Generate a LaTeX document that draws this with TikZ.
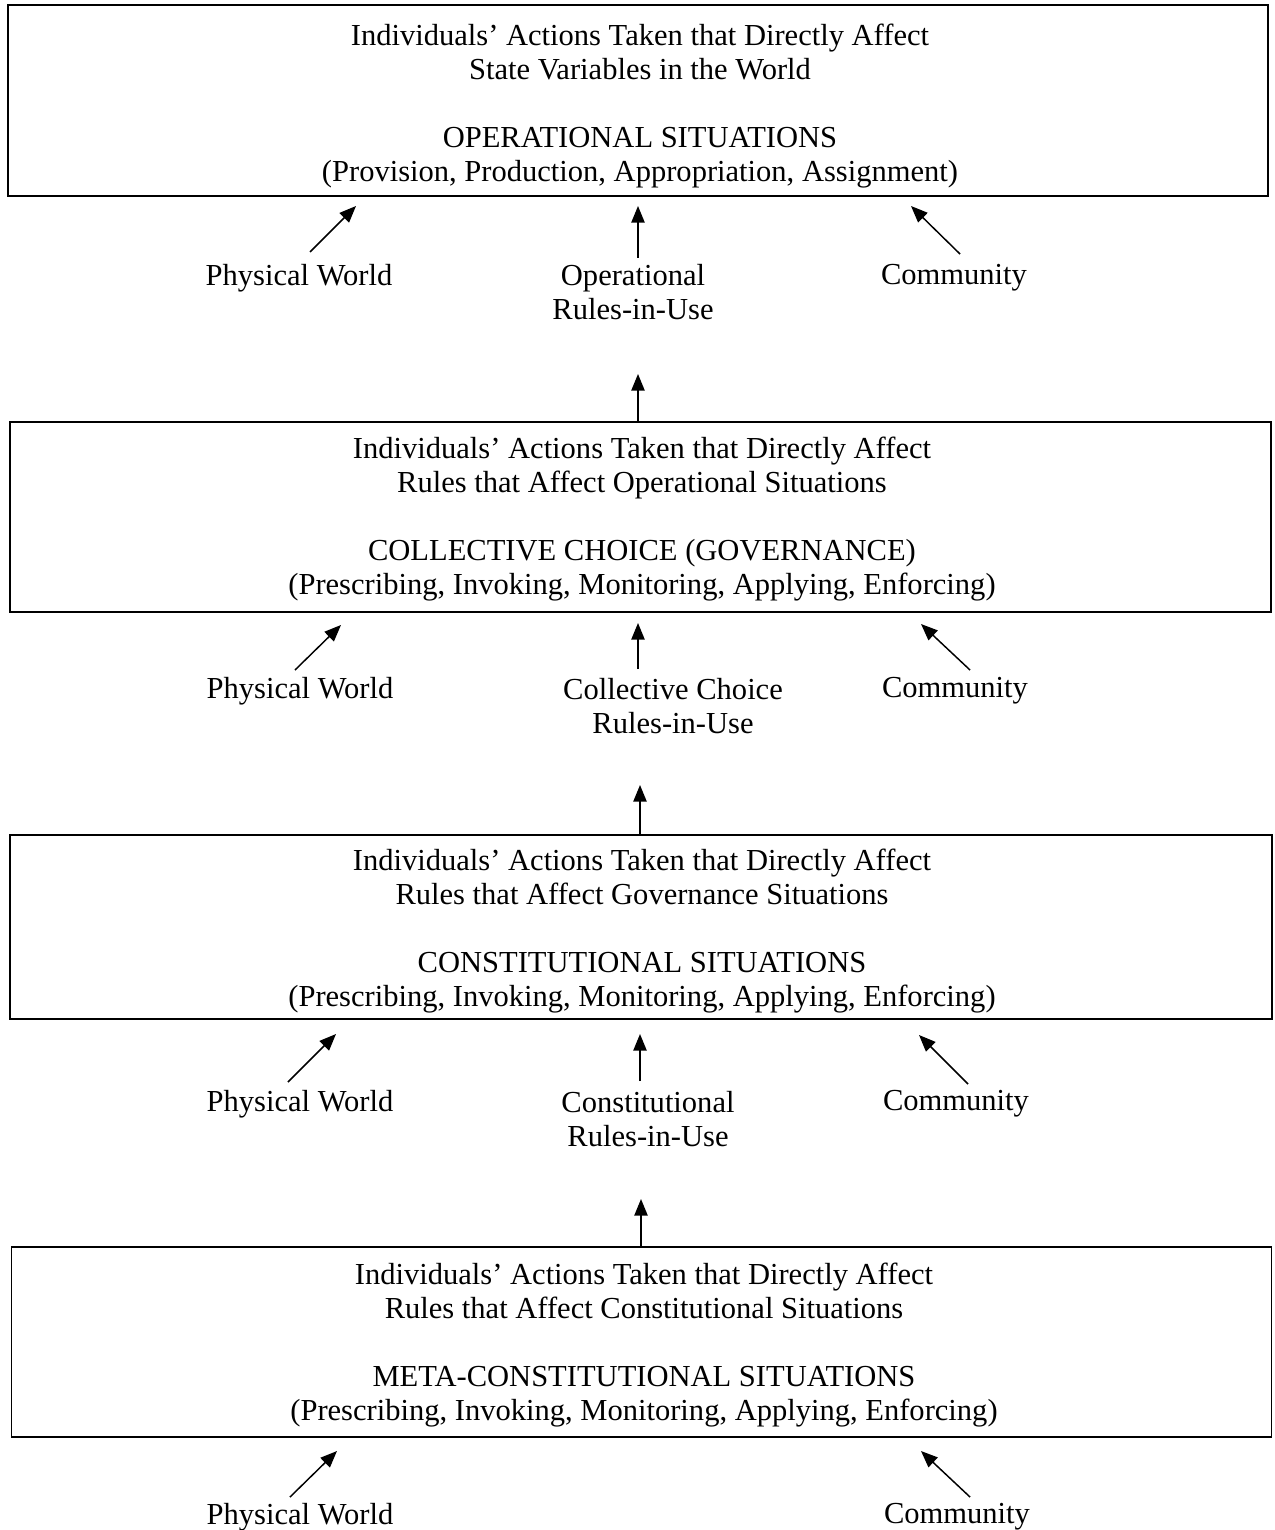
\documentclass[tikz,border=0pt]{standalone}
\usepackage{fontspec}
\setmainfont{Liberation Serif}
\usetikzlibrary{arrows.meta}
\begin{document}
\begin{tikzpicture}[x=0.75pt,y=-0.75pt,
  lvlbox/.style={draw,line width=1.3pt,rectangle,inner sep=0pt},
  lvltext/.style={align=center,inner sep=0pt,font=\fontsize{22.9}{25.5}\selectfont},
  lbl/.style={align=center,inner sep=0pt,font=\fontsize{22.9}{25.5}\selectfont},
  arr/.style={line width=1.1pt,-{Triangle[length=12.5pt,width=10pt]}}]
\useasboundingbox (0,0) rectangle (1274,1530);
% boxes
\node[lvlbox,minimum width=945pt,minimum height=143pt] (box1) at (638,100.5) {};
\node[lvlbox,minimum width=946pt,minimum height=142.5pt] (box2) at (640.5,517) {};
\node[lvlbox,minimum width=946pt,minimum height=138pt] (box3) at (641,927) {};
\node[lvlbox,minimum width=945pt,minimum height=142.5pt] (box4) at (641.5,1342) {};
% box texts
\node[lvltext] (tx1) at (640,106) {Individuals’ Actions Taken that Directly Affect\\State Variables in the World\\[25.5pt]OPERATIONAL SITUATIONS\\(Provision, Production, Appropriation, Assignment)};
\node[lvltext] (tx2) at (642,519) {Individuals’ Actions Taken that Directly Affect\\Rules that Affect Operational Situations\\[25.5pt]COLLECTIVE CHOICE (GOVERNANCE)\\(Prescribing, Invoking, Monitoring, Applying, Enforcing)};
\node[lvltext] (tx3) at (642,931) {Individuals’ Actions Taken that Directly Affect\\Rules that Affect Governance Situations\\[25.5pt]CONSTITUTIONAL SITUATIONS\\(Prescribing, Invoking, Monitoring, Applying, Enforcing)};
\node[lvltext] (tx4) at (644,1345.5) {Individuals’ Actions Taken that Directly Affect\\Rules that Affect Constitutional Situations\\[25.5pt]META-CONSTITUTIONAL SITUATIONS\\(Prescribing, Invoking, Monitoring, Applying, Enforcing)};
% labels row 1
\node[lbl] (pw1) at (299,278) {Physical World};
\node[lbl] (op1) at (633,292) {Operational\\Rules-in-Use};
\node[lbl] (cm1) at (954,278) {Community};
% labels row 2
\node[lbl] (pw2) at (300,691) {Physical World};
\node[lbl] (cc2) at (673,706) {Collective Choice\\Rules-in-Use};
\node[lbl] (cm2) at (955,691) {Community};
% labels row 3
\node[lbl] (pw3) at (300,1104) {Physical World};
\node[lbl] (cs3) at (648,1119) {Constitutional\\Rules-in-Use};
\node[lbl] (cm3) at (956,1104) {Community};
% labels row 4
\node[lbl] (pw4) at (300,1517) {Physical World};
\node[lbl] (cm4) at (957,1517) {Community};
% arrow coordinates
\coordinate (a1s) at (310,252); \coordinate (a1e) at (356,206);
\coordinate (b1s) at (638,258); \coordinate (b1e) at (638,206);
\coordinate (c1s) at (960,254); \coordinate (c1e) at (911,206);
\coordinate (u1e) at (638,374);
\coordinate (a2s) at (295,670); \coordinate (a2e) at (341,625);
\coordinate (b2s) at (638,669); \coordinate (b2e) at (638,623);
\coordinate (c2s) at (970,670); \coordinate (c2e) at (921,624);
\coordinate (u2e) at (640,785);
\coordinate (a3s) at (288,1082); \coordinate (a3e) at (336,1034);
\coordinate (b3s) at (640,1081); \coordinate (b3e) at (640,1034);
\coordinate (c3s) at (968,1084); \coordinate (c3e) at (919,1035);
\coordinate (u3e) at (641,1199);
\coordinate (a4s) at (290,1497); \coordinate (a4e) at (337,1451);
\coordinate (c4s) at (970,1497); \coordinate (c4e) at (921,1451);
% arrows
\draw[arr] (a1s) -- (a1e);
\draw[arr] (b1s) -- (b1e);
\draw[arr] (c1s) -- (c1e);
\draw[arr] (box2.north -| u1e) -- (u1e);
\draw[arr] (a2s) -- (a2e);
\draw[arr] (b2s) -- (b2e);
\draw[arr] (c2s) -- (c2e);
\draw[arr] (box3.north -| u2e) -- (u2e);
\draw[arr] (a3s) -- (a3e);
\draw[arr] (b3s) -- (b3e);
\draw[arr] (c3s) -- (c3e);
\draw[arr] (box4.north -| u3e) -- (u3e);
\draw[arr] (a4s) -- (a4e);
\draw[arr] (c4s) -- (c4e);
\end{tikzpicture}
\end{document}
